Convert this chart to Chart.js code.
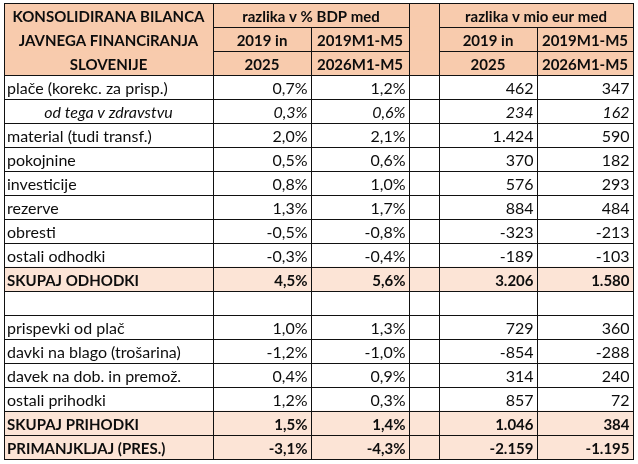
<!DOCTYPE html>
<html>
<head>
<meta charset="utf-8">
<script src="https://cdn.jsdelivr.net/npm/chart.js@4"></script>
<style>
html,body{margin:0;padding:0;background:#fff;}
canvas{display:block;}
</style>
</head>
<body>
<canvas id="c" width="638" height="464"></canvas>
<script>
// ---- DATA ----
const titleLines = ["KONSOLIDIRANA BILANCA", "JAVNEGA FINANCiRANJA", "SLOVENIJE"];
const groupHeaders = ["razlika v % BDP med", "razlika v mio eur med"];
const periodTop = ["2019 in", "2019M1-M5"];
const periodBottom = ["2025", "2026M1-M5"];
const rowLabels = ["plače (korekc. za prisp.)", "od tega v zdravstvu", "material (tudi transf.)", "pokojnine",
  "investicije", "rezerve", "obresti", "ostali odhodki", "SKUPAJ ODHODKI", "",
  "prispevki od plač", "davki na blago (trošarina)", "davek na dob. in premož.", "ostali prihodki",
  "SKUPAJ PRIHODKI", "PRIMANJKLJAJ (PRES.)"];
const pctYear = [0.7, 0.3, 2.0, 0.5, 0.8, 1.3, -0.5, -0.3, 4.5, null, 1.0, -1.2, 0.4, 1.2, 1.5, -3.1];
const pctMonths = [1.2, 0.6, 2.1, 0.6, 1.0, 1.7, -0.8, -0.4, 5.6, null, 1.3, -1.0, 0.9, 0.3, 1.4, -4.3];
const eurYear = [462, 234, 1424, 370, 576, 884, -323, -189, 3206, null, 729, -854, 314, 857, 1046, -2159];
const eurMonths = [347, 162, 590, 182, 293, 484, -213, -103, 1580, null, 360, -288, 240, 72, 384, -1195];
const rowKinds = ["n", "i", "n", "n", "n", "n", "n", "n", "b", "n", "n", "n", "n", "n", "b", "b"];

// ---- LAYOUT (not data) ----
const colEdges = [0, 209, 307, 405, 435, 533, 629];
const TOTAL = 629;
const HEADER_ROWS = 3;
const FONT = "Lato";
const FS_NORMAL = 16;
const FS_BOLD = 15;

function fmtPct(v) { return v.toFixed(1).replace('.', ',') + '%'; }
function fmtEur(v) {
  const s = String(Math.abs(Math.round(v))).replace(/\B(?=(\d{3})+(?!\d))/g, '.');
  return (v < 0 ? '-' : '') + s;
}

const nRows = HEADER_ROWS + rowLabels.length;
const labels = Array.from({length: nRows}, (_, i) => String(i));
const headerFill = labels.map((_, i) => i < HEADER_ROWS ? [0, TOTAL] : null);
const highlightFill = labels.map((_, i) => (i >= HEADER_ROWS && rowKinds[i - HEADER_ROWS] === 'b') ? [0, TOTAL] : null);

const tablePlugin = {
  id: 'tablePlugin',
  afterDraw(chart) {
    const ctx = chart.ctx;
    const xs = chart.scales.x, ys = chart.scales.y;
    const X = e => xs.getPixelForValue(colEdges[e]);
    const band = ys.getPixelForValue(1) - ys.getPixelForValue(0);
    const rowTop = i => ys.getPixelForValue(i) - band / 2;
    const rowBot = i => ys.getPixelForValue(i) + band / 2;
    const L = v => Math.round(v) + 0.5;

    ctx.save();
    ctx.fillStyle = '#0d0d0d';
    ctx.textBaseline = 'alphabetic';
    const txt = (s, x, i, align, style) => {
      ctx.font = (style === 'b' ? 'bold ' + FS_BOLD : style === 'i' ? 'italic ' + FS_NORMAL : FS_NORMAL) + 'px ' + FONT;
      ctx.textAlign = align;
      ctx.fillText(s, x, rowBot(i) - 5);
    };
    // header
    titleLines.forEach((t, i) => txt(t, (X(0) + X(1)) / 2, i, 'center', 'b'));
    txt(groupHeaders[0], (X(1) + X(3)) / 2, 0, 'center', 'b');
    txt(groupHeaders[1], (X(4) + X(6)) / 2, 0, 'center', 'b');
    [[1, 2], [2, 3], [4, 5], [5, 6]].forEach(([a, b], k) => {
      txt(periodTop[k % 2], (X(a) + X(b)) / 2, 1, 'center', 'b');
      txt(periodBottom[k % 2], (X(a) + X(b)) / 2, 2, 'center', 'b');
    });
    // body
    rowLabels.forEach((lab, r) => {
      const i = r + HEADER_ROWS;
      const k = rowKinds[r];
      if (k === 'i') txt(lab, (X(0) + X(1)) / 2, i, 'center', k);
      else txt(lab, X(0) + 3, i, 'left', k);
      if (pctYear[r] !== null) txt(fmtPct(pctYear[r]), X(2) - 3.5, i, 'right', k);
      if (pctMonths[r] !== null) txt(fmtPct(pctMonths[r]), X(3) - 3.5, i, 'right', k);
      if (eurYear[r] !== null) txt(fmtEur(eurYear[r]), X(5) - 3.5, i, 'right', k);
      if (eurMonths[r] !== null) txt(fmtEur(eurMonths[r]), X(6) - 3.5, i, 'right', k);
    });

    // grid lines
    ctx.strokeStyle = '#111';
    ctx.lineWidth = 1;
    const h = (x0, x1, y) => { ctx.beginPath(); ctx.moveTo(Math.round(x0), L(y)); ctx.lineTo(Math.round(x1) + 1, L(y)); ctx.stroke(); };
    const v = (x, y0, y1) => { ctx.beginPath(); ctx.moveTo(L(x), Math.round(y0)); ctx.lineTo(L(x), Math.round(y1) + 1); ctx.stroke(); };
    const top = rowTop(0), bottom = rowBot(nRows - 1);
    h(X(0), X(6), top);
    h(X(1), X(3), rowBot(0)); h(X(4), X(6), rowBot(0));
    h(X(1), X(3), rowBot(1)); h(X(4), X(6), rowBot(1));
    for (let i = HEADER_ROWS - 1; i < nRows; i++) h(X(0), X(6), rowBot(i));
    [0, 1, 3, 4, 6].forEach(e => v(X(e), top, bottom));
    v(X(2), rowTop(1), bottom);
    v(X(5), rowTop(1), bottom);
    ctx.restore();
  }
};

new Chart(document.getElementById('c'), {
  type: 'bar',
  data: {
    labels: labels,
    datasets: [
      { data: headerFill, backgroundColor: '#F8CBAD', borderWidth: 0, barPercentage: 1, categoryPercentage: 1, grouped: false },
      { data: highlightFill, backgroundColor: '#FCE4D6', borderWidth: 0, barPercentage: 1, categoryPercentage: 1, grouped: false }
    ]
  },
  options: {
    indexAxis: 'y',
    responsive: false,
    animation: false,
    devicePixelRatio: 1,
    layout: { padding: { left: 4, right: 5, top: 3, bottom: 5 } },
    plugins: { legend: { display: false }, tooltip: { enabled: false } },
    scales: {
      x: { type: 'linear', min: 0, max: TOTAL, display: false },
      y: { type: 'category', display: false, offset: true }
    }
  },
  plugins: [tablePlugin]
});
</script>
</body>
</html>
